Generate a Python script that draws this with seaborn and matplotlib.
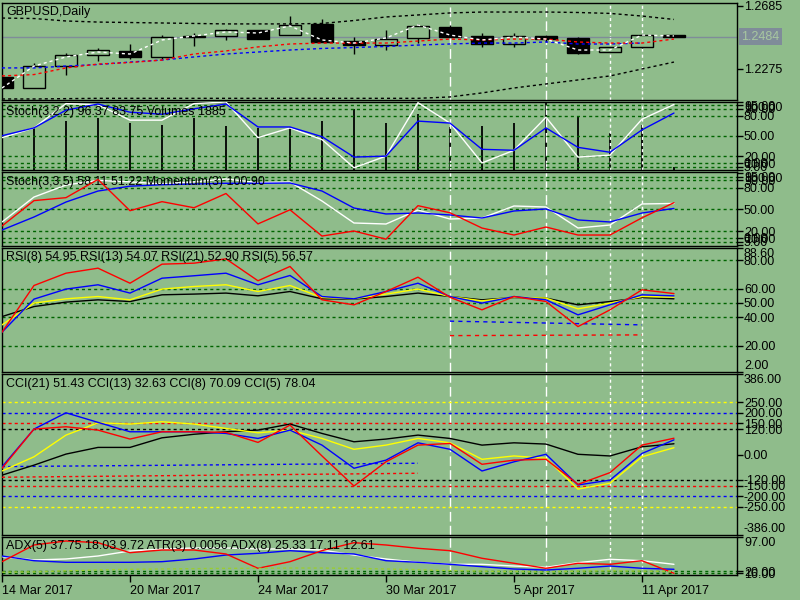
import numpy as np
import pandas as pd
import matplotlib
matplotlib.use('Agg')
import matplotlib.pyplot as plt
import seaborn as sns

# ---------------- data ----------------
idx = list(range(22))
date_ticks = [0, 4, 8, 12, 16, 20]
date_labels = ['14 Mar 2017', '20 Mar 2017', '24 Mar 2017', '30 Mar 2017', '5 Apr 2017', '11 Apr 2017']

opens = [1.2223, 1.2152, 1.2294, 1.2366, 1.2392, 1.2353, 1.2489, 1.2489, 1.2528, 1.2495, 1.2567,
         1.2456, 1.2430, 1.2476, 1.2547, 1.2489, 1.2437, 1.2489, 1.2476, 1.2385, 1.2418, 1.2495]
highs = [1.2230, 1.2314, 1.2379, 1.2411, 1.2437, 1.2495, 1.2508, 1.2534, 1.2530, 1.2618, 1.2599,
         1.2482, 1.2528, 1.2567, 1.2560, 1.2508, 1.2508, 1.2495, 1.2482, 1.2418, 1.2501, 1.2495]
lows = [1.2145, 1.2150, 1.2236, 1.2327, 1.2340, 1.2340, 1.2424, 1.2463, 1.2467, 1.2493, 1.2448,
        1.2372, 1.2398, 1.2443, 1.2480, 1.2418, 1.2418, 1.2450, 1.2372, 1.2385, 1.2411, 1.2484]
closes = [1.2152, 1.2294, 1.2366, 1.2398, 1.2353, 1.2482, 1.2482, 1.2528, 1.2469, 1.2560, 1.2450,
          1.2430, 1.2469, 1.2554, 1.2482, 1.2437, 1.2489, 1.2469, 1.2379, 1.2418, 1.2495, 1.2484]
ma_white = [1.2152, 1.2294, 1.2353, 1.2385, 1.2372, 1.2463, 1.2489, 1.2515, 1.2508, 1.2554, 1.2463,
            1.2443, 1.2476, 1.2560, 1.2495, 1.2463, 1.2482, 1.2469, 1.2398, 1.2398, 1.2495, 1.2489]
ma_red = [1.2230, 1.2239, 1.2282, 1.2307, 1.2317, 1.2333, 1.2372, 1.2392, 1.2418, 1.2437, 1.2443,
          1.2443, 1.2443, 1.2456, 1.2469, 1.2463, 1.2469, 1.2469, 1.2450, 1.2443, 1.2443, 1.2469]
ma_blue = [1.2282, 1.2282, 1.2294, 1.2304, 1.2320, 1.2333, 1.2353, 1.2372, 1.2385, 1.2398, 1.2408,
           1.2414, 1.2421, 1.2430, 1.2437, 1.2443, 1.2443, 1.2450, 1.2437, 1.2437, 1.2443]
band_upper = [1.2605, 1.2602, 1.2586, 1.2579, 1.2576, 1.2573, 1.2570, 1.2567, 1.2567, 1.2567, 1.2570,
              1.2589, 1.2612, 1.2625, 1.2638, 1.2644, 1.2644, 1.2644, 1.2641, 1.2635, 1.2618, 1.2596]
band_lower = [1.2081, 1.2081, 1.2083, 1.2085, 1.2085, 1.2085, 1.2085, 1.2085, 1.2085, 1.2085, 1.2085,
              1.2085, 1.2085, 1.2085, 1.2094, 1.2120, 1.2152, 1.2178, 1.2204, 1.2230, 1.2275, 1.2320]
last_price = 1.2484
price_ticks = [1.2685, 1.2275]

volumes = [30000, 27000, 30800, 32700, 29500, 28300, 32700, 27600, 26400, 27000, 30800,
           38300, 29500, 35200, 27000, 27600, 29500, 42100, 33900, 23200, 28300, 1885]
stoch1_main = [47.6, 61.9, 97.6, 96.0, 73.3, 73.3, 97.6, 100.0, 47.6, 61.9, 44.7,
               3.3, 20.4, 99.0, 69.0, 10.4, 29.0, 77.6, 19.0, 21.9, 74.7, 96.37]
stoch1_signal = [50.4, 61.9, 88.0, 97.0, 85.0, 82.0, 90.0, 97.0, 63.3, 63.3, 49.0,
                 19.0, 20.4, 71.9, 69.0, 30.4, 29.0, 61.9, 33.3, 26.1, 59.0, 83.75]
stoch2_main = [32.5, 67.0, 83.6, 90.0, 88.0, 85.0, 88.0, 92.0, 87.0, 87.8, 61.5,
               31.1, 29.7, 49.0, 36.6, 38.0, 54.6, 53.2, 24.2, 28.3, 57.4, 58.11]
stoch2_signal = [21.4, 39.4, 60.1, 75.3, 82.0, 84.0, 85.0, 86.0, 86.0, 86.4, 75.3,
                 51.8, 43.6, 44.9, 42.2, 38.0, 47.7, 50.5, 35.3, 32.5, 44.9, 51.22]
momentum = [99.33, 101.04, 101.24, 102.47, 100.36, 100.97, 100.56, 101.52, 99.47, 100.42, 98.65,
            98.99, 98.44, 100.70, 100.22, 99.19, 98.72, 99.26, 98.72, 98.72, 99.88, 100.90]
rsi5 = [29.6, 62.2, 70.8, 74.3, 63.8, 77.1, 77.8, 80.8, 65.5, 75.5, 52.2,
        48.7, 58.0, 68.0, 54.0, 45.2, 54.5, 51.0, 33.5, 45.2, 59.2, 56.57]
rsi8 = [29.6, 52.7, 59.7, 62.7, 56.9, 67.3, 69.0, 70.8, 62.7, 69.2, 54.5,
        52.9, 58.0, 63.8, 54.5, 49.9, 54.5, 52.2, 41.7, 48.7, 55.7, 54.95]
rsi13 = [34.7, 49.9, 52.9, 54.5, 52.2, 59.7, 61.5, 62.7, 58.0, 62.2, 53.8,
         52.9, 56.2, 59.7, 54.5, 51.5, 54.0, 53.4, 45.9, 49.9, 54.5, 54.07]
rsi21 = [40.5, 47.5, 50.6, 52.2, 51.0, 55.7, 56.2, 56.9, 55.0, 58.0, 52.9,
         52.7, 54.5, 56.9, 54.5, 52.2, 53.8, 53.4, 48.7, 51.0, 53.8, 52.90]
rsi_seg_x = [14, 20]
rsi_seg_blue = [37.3, 34.7]
rsi_seg_red = [27.2, 27.7]
cci5 = [-66, 122, 133, 117, 74, 109, 109, 106, 58, 141, -7,
        -151, -35, 45, 53, -47, -27, -23, -143, -87, 45, 78.04]
cci8 = [-59, 122, 200, 154, 109, 109, 109, 101, 77, 117, 45,
        -66, -27, 56, 25, -79, -35, 1, -146, -123, 5, 70.09]
cci13 = [-79, -11, 93, 152, 146, 157, 146, 125, 104, 117, 77,
         25, 45, 77, 56, -23, -7, -18, -166, -138, -11, 32.63]
cci21 = [-99, -51, 2, 34, 34, 80, 97, 109, 117, 146, 101,
         61, 74, 93, 77, 45, 56, 50, 1, -7, 37, 51.43]
cci_seg_x = [0, 13]
cci_seg_blue = [-58, -42]
cci_seg_red = [-109, -90]
adx_red = [41.8, 79.1, 88.1, 84.3, 61.9, 67.9, 67.9, 59.0, 27.0, 41.8, 66.4,
           84.3, 79.1, 71.7, 66.4, 49.4, 38.2, 27.0, 38.2, 35.9, 44.0, 15.8]
adx_blue = [54.5, 44.0, 40.4, 40.4, 40.4, 41.8, 47.8, 56.7, 60.5, 66.4, 61.9,
            59.0, 44.0, 40.4, 35.9, 30.6, 25.4, 23.2, 27.0, 32.1, 27.0, 24.8]
adx_white = [52.9, 45.6, 47.8, 54.5, 65.7, 70.2, 72.4, 72.4, 70.2, 70.2, 67.9,
             56.7, 47.8, 40.4, 35.9, 35.9, 32.1, 29.2, 39.5, 47.1, 44.0, 35.9]
atr3 = [0.0045, 0.0050, 0.0065, 0.0080, 0.0090, 0.0095, 0.0100, 0.0105, 0.0105, 0.0110, 0.0110,
        0.0105, 0.0095, 0.0085, 0.0070, 0.0060, 0.0055, 0.0050, 0.0060, 0.0065, 0.0060, 0.0056]
vlines_long = [14, 17]
vlines_short = [19, 20]

# ---------------- style ----------------
BG = '#8FBC8B'
DG = '#006400'
sns.set_theme(style='white', rc={'axes.facecolor': BG, 'figure.facecolor': BG})
plt.rcParams['font.family'] = ['Liberation Sans', 'DejaVu Sans']
plt.rcParams['font.size'] = 9
DOT = (0, (2.2, 2.2))
XMAX = 22.97

fig = plt.figure(figsize=(8, 6), dpi=100, facecolor=BG)


def rect(top, bot):
    return [2 / 800, 1 - bot / 600, 735 / 800, (bot - top) / 600]


def style(ax, ylim, ticks, fmt, edge_va=None):
    edge_va = edge_va or {}
    ax.set_facecolor(BG)
    ax.set_xlim(0, XMAX)
    ax.set_ylim(*ylim)
    ax.yaxis.tick_right()
    ax.yaxis.set_label_position('right')
    ax.set_yticks(ticks)
    ax.set_yticklabels([fmt % t for t in ticks])
    ax.tick_params(axis='y', right=True, left=False, labelright=True, labelleft=False,
                   direction='out', length=4, width=1, pad=1, labelsize=9, colors='black')
    ax.tick_params(axis='x', bottom=False, labelbottom=False)
    for lab, t in zip(ax.get_yticklabels(), ticks):
        if t in edge_va:
            lab.set_verticalalignment(edge_va[t])
    for s in ax.spines.values():
        s.set_color('black')
        s.set_linewidth(1)
    ax.set_xlabel('')
    ax.set_ylabel('')
    for v in vlines_long:
        ax.axvline(v, color='white', lw=1, linestyle=(0, (7, 3)), zorder=0.5)
    for v in vlines_short:
        ax.axvline(v, color='white', lw=1, linestyle=(0, (2.2, 2.2)), zorder=0.5)


def title(ax, text, top, bot):
    h = bot - top
    ax.text(4 / 735, 1 - 3.5 / h, text, transform=ax.transAxes, ha='left', va='top',
            fontsize=9, color='black', zorder=10)


def line(ax, x, y, color, ls='-', lw=1.0, z=4):
    sns.lineplot(x=x, y=y, ax=ax, color=color, linestyle=ls, lw=lw, legend=False, zorder=z)


def twin(ax, ylim):
    t = ax.twinx()
    t.set_ylim(*ylim)
    t.set_xlim(0, XMAX)
    t.set_axis_off()
    return t


stoch_ticks = [0, 5, 10, 20, 50, 80, 90, 95, 100]
stoch_levels = [95, 90, 80, 50, 20, 10, 5]

# ---------------- panel 1: price ----------------
T1, B1 = 2.5, 100
ax1 = fig.add_axes(rect(T1, B1))
style(ax1, (1.20742, 1.27057), price_ticks, '%.4f')
ax1.axhline(last_price, color='#7F8C99', lw=1, zorder=1)
for i in idx:
    ax1.vlines(i, lows[i], highs[i], color='black', lw=1, zorder=2)
bull = [c >= o for o, c in zip(opens, closes)]
bottoms = [min(o, c) for o, c in zip(opens, closes)]
heights = [max(abs(c - o), 0.00008) for o, c in zip(opens, closes)]
ax1.bar(idx, heights, bottom=bottoms, width=0.69,
        color=[BG if b else 'black' for b in bull], edgecolor='black', linewidth=1, zorder=3)
line(ax1, idx, band_upper, 'black', DOT)
line(ax1, idx, band_lower, 'black', DOT)
line(ax1, idx[:len(ma_blue)], ma_blue, '#0000FF', DOT)
line(ax1, idx, ma_red, '#FF0000', DOT)
line(ax1, idx, ma_white, 'white', DOT, z=5)
ax1.text(1.006, last_price, '%.4f' % last_price, transform=ax1.get_yaxis_transform(),
         ha='left', va='center', fontsize=9, color='#A8C8A0',
         bbox=dict(boxstyle='square,pad=0.2', fc='#7F8C99', ec='none'), clip_on=False)
title(ax1, 'GBPUSD,Daily', T1, B1)

# ---------------- panel 2: stoch + volumes ----------------
T2, B2 = 102, 170
ax2 = fig.add_axes(rect(T2, B2))
ax2v = twin(ax2, (0, 42700))
style(ax2, (1.9, 99), stoch_ticks, '%.2f', {100: 'top', 0: 'bottom'})
for v in stoch_levels:
    ax2.axhline(v, color=DG, lw=1, linestyle=DOT, zorder=1)
ax2v.vlines(idx, 0, volumes, color='black', lw=1.3)
ax2.set_zorder(ax2v.get_zorder() + 1)
ax2.patch.set_visible(False)
line(ax2, idx, stoch1_main, 'white')
line(ax2, idx, stoch1_signal, '#0000FF')
title(ax2, 'Stoch(3,2,2) 96.37 83.75 Volumes 1885', T2, B2)

# ---------------- panel 3: stoch + momentum ----------------
T3, B3 = 172.3, 245.7
ax3 = fig.add_axes(rect(T3, B3))
ax3m = twin(ax3, (98.0, 102.95))
style(ax3, (-0.3, 101.2), stoch_ticks, '%.2f', {100: 'top', 0: 'bottom'})
for v in stoch_levels:
    ax3.axhline(v, color=DG, lw=1, linestyle=DOT, zorder=1)
line(ax3, idx, stoch2_main, 'white')
line(ax3, idx, stoch2_signal, '#0000FF')
line(ax3m, idx, momentum, '#FF0000')
title(ax3, 'Stoch(3,3,5) 58.11 51.22 Momentum(3) 100.90', T3, B3)

# ---------------- panel 4: RSI ----------------
T4, B4 = 247.7, 371.7
ax4 = fig.add_axes(rect(T4, B4))
style(ax4, (2, 88.6), [2, 20, 40, 50, 60, 80, 88.6], '%.2f', {88.6: 'top', 2: 'bottom'})
for v in [80, 60, 50, 40, 20]:
    ax4.axhline(v, color=DG, lw=1, linestyle=DOT, zorder=1)
line(ax4, rsi_seg_x, rsi_seg_blue, '#0000FF', (0, (3, 3)))
line(ax4, rsi_seg_x, rsi_seg_red, '#FF0000', (0, (3, 3)))
line(ax4, idx, rsi21, 'black')
line(ax4, idx, rsi13, '#FFFF00')
line(ax4, idx, rsi8, '#0000FF')
line(ax4, idx, rsi5, '#FF0000')
title(ax4, 'RSI(8) 54.95 RSI(13) 54.07 RSI(21) 52.90 RSI(5) 56.57', T4, B4)

# ---------------- panel 5: CCI ----------------
T5, B5 = 374, 535
ax5 = fig.add_axes(rect(T5, B5))
cci_ticks = [-386, -250, -200, -150, -120, 0, 120, 150, 200, 250, 386]
style(ax5, (-386, 386), cci_ticks, '%.2f', {386: 'top', -386: 'bottom'})
for v, c in [(250, '#FFFF00'), (200, '#0000FF'), (150, '#FF0000'), (120, 'black')]:
    ax5.axhline(v, color=c, lw=1, linestyle=DOT, zorder=1)
    ax5.axhline(-v, color=c, lw=1, linestyle=DOT, zorder=1)
line(ax5, cci_seg_x, cci_seg_blue, '#0000FF', DOT)
line(ax5, cci_seg_x, cci_seg_red, '#FF0000', DOT)
line(ax5, idx, cci21, 'black')
line(ax5, idx, cci13, '#FFFF00')
line(ax5, idx, cci8, '#0000FF')
line(ax5, idx, cci5, '#FF0000')
title(ax5, 'CCI(21) 51.43 CCI(13) 32.63 CCI(8) 70.09 CCI(5) 78.04', T5, B5)

# ---------------- panel 6: ADX / ATR ----------------
T6, B6 = 537, 575
ax6 = fig.add_axes(rect(T6, B6))
ax6a = twin(ax6, (0, 0.06))
style(ax6, (12, 97), [16, 20, 97], '%.2f', {97: 'top'})
for v in [20, 16]:
    ax6.axhline(v, color=DG, lw=1, linestyle=DOT, zorder=1)
line(ax6a, idx, atr3, '#9ACD32', DOT, z=2)
line(ax6, idx, adx_white, 'white')
line(ax6, idx, adx_blue, '#0000FF')
line(ax6, idx, adx_red, '#FF0000')
title(ax6, 'ADX(5) 37.75 18.03 9.72 ATR(3) 0.0056 ADX(8) 25.33 17.11 12.61', T6, B6)

ax6.set_xticks(date_ticks)
ax6.set_xticklabels(date_labels, ha='left')
ax6.tick_params(axis='x', bottom=True, labelbottom=True, direction='out', length=5, width=1,
                pad=2, labelsize=9, colors='black')
ax6.set_xlim(0, XMAX)

fig.savefig('out.png', dpi=100, facecolor=BG)
